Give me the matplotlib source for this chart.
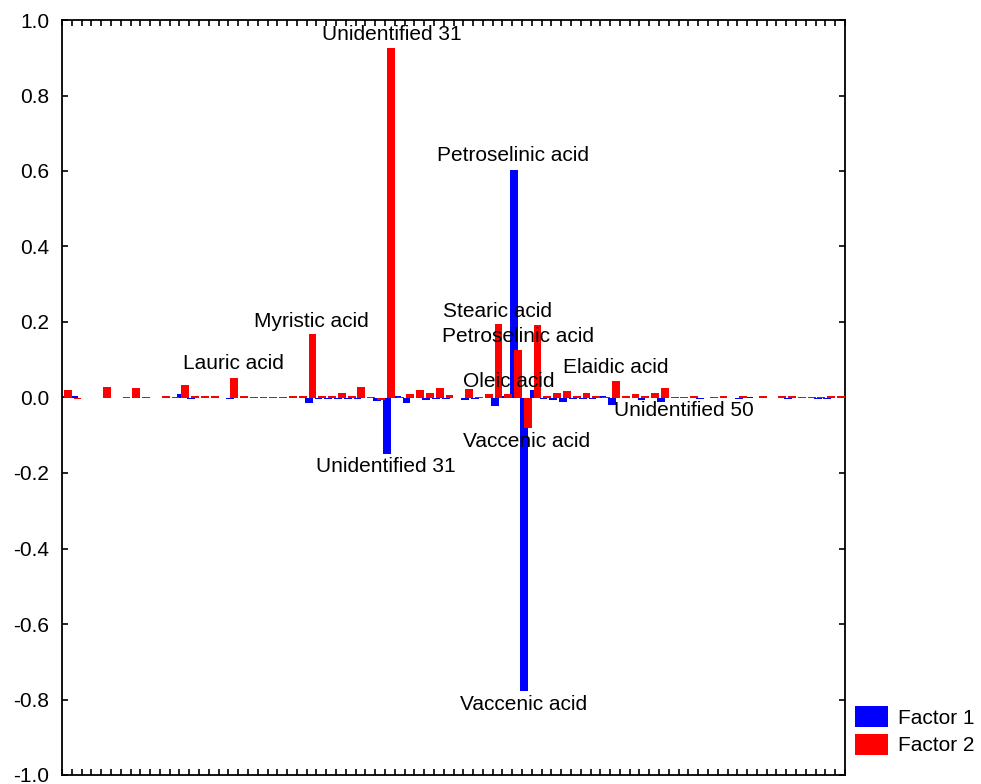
import matplotlib
matplotlib.use("Agg")
import matplotlib.pyplot as plt
import numpy as np
from matplotlib.patches import Patch
from matplotlib.ticker import MultipleLocator, FormatStrFormatter

plt.rcParams['font.family'] = ['Liberation Sans', 'DejaVu Sans']
plt.rcParams['axes.unicode_minus'] = False

# Loadings per variable (80 variables)
factor1 = [0.0, 0.003, 0.0, 0.0, -0.001, 0.0, 0.0, 0.0, 0.0, -0.002,
           -0.002, 0.0, 0.008, -0.004, 0.0, 0.0, 0.0, -0.004, 0.0, -0.002,
           -0.002, -0.002, -0.002, -0.002, -0.002, -0.015, -0.004, -0.004, -0.004, -0.004,
           -0.004, 0.0, -0.008, -0.149, 0.003, -0.015, 0.0, -0.006, -0.005, -0.005,
           -0.002, -0.006, -0.004, -0.002, -0.023, 0.005, 0.602, -0.777, 0.019, -0.004,
           -0.006, -0.013, -0.004, -0.004, -0.005, 0.004, -0.021, 0.0, 0.0, -0.006,
           0.0, -0.012, 0.0, 0.0, 0.0, -0.003, 0.0, 0.0, -0.002, -0.004,
           0.001, 0.0, 0.0, 0.0, -0.004, 0.0, 0.0, -0.003, -0.003, 0.0]
factor2 = [0.020, -0.005, 0.0, 0.0, 0.027, 0.0, 0.002, 0.024, 0.001, 0.0,
           0.004, 0.002, 0.033, 0.004, 0.004, 0.004, 0.0, 0.051, 0.004, 0.001,
           0.001, 0.002, 0.002, 0.004, 0.004, 0.167, 0.005, 0.005, 0.011, 0.004,
           0.027, 0.001, -0.006, 0.926, 0.002, 0.008, 0.019, 0.013, 0.025, 0.006,
           -0.002, 0.022, 0.002, 0.008, 0.194, 0.008, 0.127, -0.080, 0.192, 0.003,
           0.011, 0.016, 0.005, 0.013, 0.005, 0.001, 0.045, 0.005, 0.009, 0.003,
           0.011, 0.024, 0.001, 0.001, 0.003, 0.0, 0.001, 0.003, 0.0, 0.005,
           0.0, 0.003, 0.0, 0.005, 0.005, 0.001, 0.001, 0.001, 0.003, 0.003]

# Labels: (text, x position in variable units, y value)
labels_text = ["Unidentified 31", "Petroselinic acid", "Myristic acid", "Lauric acid",
               "Stearic acid", "Petroselinic acid", "Oleic acid", "Elaidic acid",
               "Unidentified 50", "Vaccenic acid", "Unidentified 31", "Vaccenic acid"]
labels_x = [33.7, 46.07, 25.5, 17.5, 44.5, 46.6, 45.6, 56.6, 63.5, 47.5, 33.1, 47.2]
labels_y = [0.962, 0.642, 0.202, 0.090, 0.228, 0.162, 0.042, 0.080, -0.034, -0.117, -0.183, -0.812]

legend_labels = ["Factor 1", "Factor 2"]
colors = ["#0000ff", "#ff0000"]

n = len(factor1)
centers = np.arange(n) + 0.5

fig = plt.figure(figsize=(9.81, 7.84), dpi=100)
ax = fig.add_axes([62/981, 9/784, (845-62)/981, (775-20)/784])

ax.bar(centers - 0.3, factor1, width=0.8, color=colors[0], linewidth=0, zorder=2)
ax.bar(centers + 0.09, factor2, width=0.8, color=colors[1], linewidth=0, zorder=3)

ax.set_xlim(0, n)
ax.set_ylim(-1.0, 1.0)
ax.yaxis.set_major_locator(MultipleLocator(0.2))
ax.yaxis.set_major_formatter(FormatStrFormatter('%.1f'))
ax.set_xticks(np.arange(0, n + 1))
ax.set_xticklabels([])
ax.tick_params(axis='x', direction='in', length=4, width=1.2, top=True, bottom=True)
ax.tick_params(axis='y', direction='in', length=4, width=1.2, left=True, right=True,
               labelsize=15, pad=9)
for s in ax.spines.values():
    s.set_linewidth(1.3)

for t, x, y in zip(labels_text, labels_x, labels_y):
    ax.text(x, y, t, ha='center', va='center', fontsize=15, zorder=5)

handles = [Patch(facecolor=c, edgecolor='none') for c in colors]
fig.legend(handles, legend_labels, loc='upper left',
           bbox_to_anchor=(855/981, 1 - 706/784), bbox_transform=fig.transFigure,
           frameon=False, fontsize=15, borderpad=0, borderaxespad=0,
           handlelength=1.6, handleheight=1.2, handletextpad=0.45, labelspacing=0.28)

fig.savefig("out.png", dpi=100)
